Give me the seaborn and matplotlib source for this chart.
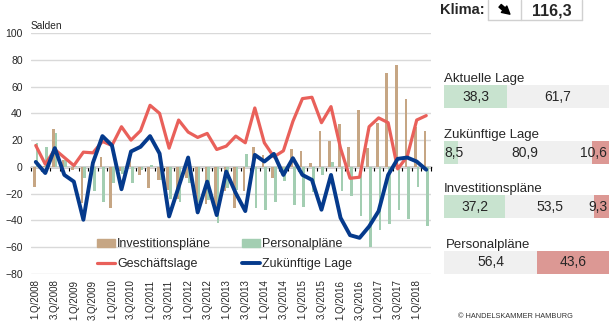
import numpy as np
import pandas as pd
import seaborn as sns
import matplotlib.pyplot as plt
from matplotlib.lines import Line2D
from matplotlib.patches import Patch, FancyArrowPatch

# quarters 1.Q/2008 .. 2.Q/2018
quarters = [f"{q}.Q/{y}" for y in range(2008, 2019) for q in range(1, 5)][:42]

# Salden (balances)
invest = [-15, 0.5, 28, 5.5, -2, -27, -1, 7.7, -30.5, -3,
          7.7, -6, -16, -9.5, -17, -24, -8, -26, -28, -30,
          -18, -30.5, -18, 15, 9, -8, -3, 13.5, 11.5, 3,
          27, 19, 32, 14.7, 42.7, 14, 33, 70, 76, 51,
          30, 27]
personal = [18, 14.5, 25.5, 5, 0.5, -8, -18, -26, -12, -5,
            -12, -2, 1.5, -10, -24, -26.5, -12, -27, -25, -42,
            -16, -17, 10, -30.5, -32, -26, -10.5, -28.5, -30, -19,
            -6, 4, -18, -22, -37, -60, -47, -43, -32, -38.6,
            -15, -44]
geschaeft = [16, 2, 13, 7, 1, 11, 10.5, 19, 16, 30,
             20, 27, 46, 40, 14, 35, 26, 22, 25, 13,
             15.5, 23, 18, 44, 18, 7.5, 12, 34, 51, 52,
             33, 45, 14, -8.5, -7.7, 30, 36.6, 33, -1.5, 7.7,
             35, 38.3]
zukunft = [3.7, -4.6, 14, -6, -11, -39.5, 3, 23, 16, -16.7,
           11.5, 15, 23, 10, -37, -15, 7, -34, -11, -36,
           -3.5, -19.6, -33, 9, 4, 9.7, -6, 6.5, -6, -9.7,
           -32, -6, -38, -51, -53, -44.5, -33, -6, 6, 7,
           4, -2.1]

# right panel: shares of answers (besser / gleich / schlechter)
panel_labels = ["Aktuelle Lage", "Zukünftige Lage", "Investitionspläne", "Personalpläne"]
besser = [38.3, 8.5, 37.2, 0]
gleich = [61.7, 80.9, 53.5, 56.4]
schlechter = [0, 10.6, 9.3, 43.6]
klima_wert = 116.3

TAN = "#c6a684"
GREEN = "#a3ceb2"
RED = "#e9605a"
BLUE = "#053a8c"
P_GREEN = "#c8e3cf"
P_GREY = "#f0f0f0"
P_RED = "#dc9894"

sns.set_theme(style="white")
plt.rcParams['font.family'] = ['Liberation Sans', 'DejaVu Sans']


def de(v):
    return f"{v:.1f}".replace(".", ",")


fig = plt.figure(figsize=(6.09, 3.22), dpi=100)
ax = fig.add_axes([31 / 609, 48 / 322, 400 / 609, 241 / 322])

# bars
bars = pd.DataFrame({
    "Quartal": quarters * 2,
    "Saldo": invest + personal,
    "Reihe": ["Investitionspläne"] * 42 + ["Personalpläne"] * 42,
})
sns.barplot(data=bars, x="Quartal", y="Saldo", hue="Reihe", palette=[TAN, GREEN],
            width=0.56, saturation=1, linewidth=0, legend=False, ax=ax)

# lines
pos = list(range(len(quarters)))
sns.lineplot(x=pos, y=geschaeft, color=RED, linewidth=2.3, sort=False, ax=ax)
sns.lineplot(x=pos, y=zukunft, color=BLUE, linewidth=2.8, sort=False, ax=ax)

ax.set_xlim(-0.5, len(quarters) - 0.5)
ax.set_ylim(-80, 100)
ax.set_yticks(range(-80, 101, 20))
ax.yaxis.grid(True, color="#d9d9d9", lw=1)
ax.set_axisbelow(True)
for s in ax.spines.values():
    s.set_visible(False)
ax.set_xticks(range(0, len(quarters), 2), quarters[::2], rotation=90)
ax.tick_params(axis="x", length=0, pad=4, labelsize=7)
ax.tick_params(axis="y", length=0, pad=6, labelsize=7.5)
ax.set_xlabel("")
ax.set_ylabel("")
ax.text(0, 1.008, "Salden", transform=ax.transAxes, fontsize=7.3, va="bottom", ha="left")

# zero line with category ticks
sec = ax.secondary_xaxis(80 / 180)
sec.set_xticks(np.arange(-0.5, len(quarters), 1))
sec.tick_params(length=3, width=0.8, color="black", labelbottom=False, direction="out")
sec.spines["bottom"].set_color("black")
sec.spines["bottom"].set_linewidth(1)

handles = [
    Patch(color=TAN, label="Investitionspläne"),
    Line2D([], [], color=RED, lw=2.3, label="Geschäftslage"),
    Patch(color=GREEN, label="Personalpläne"),
    Line2D([], [], color=BLUE, lw=2.8, label="Zukünftige Lage"),
]
ax.legend(handles=handles, ncol=2, loc="upper left", bbox_to_anchor=(0.165, 0.148),
          frameon=False, fontsize=9, handlelength=1.45, handletextpad=0.15,
          columnspacing=2.5, labelspacing=0.65, borderpad=0, borderaxespad=0)

# right panel
pax = fig.add_axes([444 / 609, 0, 165 / 609, 1])
pax.set_xlim(0, 100)
pax.set_ylim(322, 0)
pax.axis("off")
bar_y = [96.5, 152.5, 206.5, 262]
bar_h = 23
lefts = np.zeros(len(panel_labels))
for vals, col in [(besser, P_GREEN), (gleich, P_GREY), (schlechter, P_RED)]:
    vals = np.array(vals, dtype=float)
    pax.barh(bar_y, vals, left=lefts, height=bar_h, color=col, lw=0)
    for k, v in enumerate(vals):
        if v <= 0:
            continue
        if v < 15 and lefts[k] == 0:
            pax.text(lefts[k], bar_y[k], de(v), ha="left", va="center", fontsize=10)
        elif v < 15:
            pax.text(lefts[k] + v - 1, bar_y[k], de(v), ha="right", va="center", fontsize=10)
        else:
            pax.text(lefts[k] + v / 2, bar_y[k], de(v), ha="center", va="center", fontsize=10)
    lefts = lefts + vals
for k, lab in enumerate(panel_labels):
    xoff = 1.2 if k == 3 else 0
    pax.text(xoff, bar_y[k] - bar_h / 2 - 3, lab, ha="left", va="baseline", fontsize=9.5)

# Klima header
fig.text(440 / 609, 1 - 10 / 322, "Klima:", fontsize=10.5, fontweight="bold", va="center", ha="left")
fig.add_artist(FancyArrowPatch((498 / 609, 1 - 4 / 322), (512 / 609, 1 - 16 / 322),
                               transform=fig.transFigure, color="black", mutation_scale=10,
                               arrowstyle="simple,head_width=0.6,head_length=0.55,tail_width=0.25"))
fig.text(552 / 609, 1 - 11 / 322, de(klima_wert), fontsize=11.5, fontweight="bold", va="center", ha="center")
for xp in [488, 521, 582]:
    fig.add_artist(Line2D([xp / 609, xp / 609], [1, 1 - 20 / 322], color="#d0d0d0", lw=1))
fig.add_artist(Line2D([488 / 609, 582 / 609], [1 - 20 / 322, 1 - 20 / 322], color="#d0d0d0", lw=1))

fig.text(515 / 609, 1 - 316 / 322, "© HANDELSKAMMER HAMBURG", fontsize=5.3, ha="center", va="center",
         color="#333333")

fig.savefig("out.png", dpi=100)
